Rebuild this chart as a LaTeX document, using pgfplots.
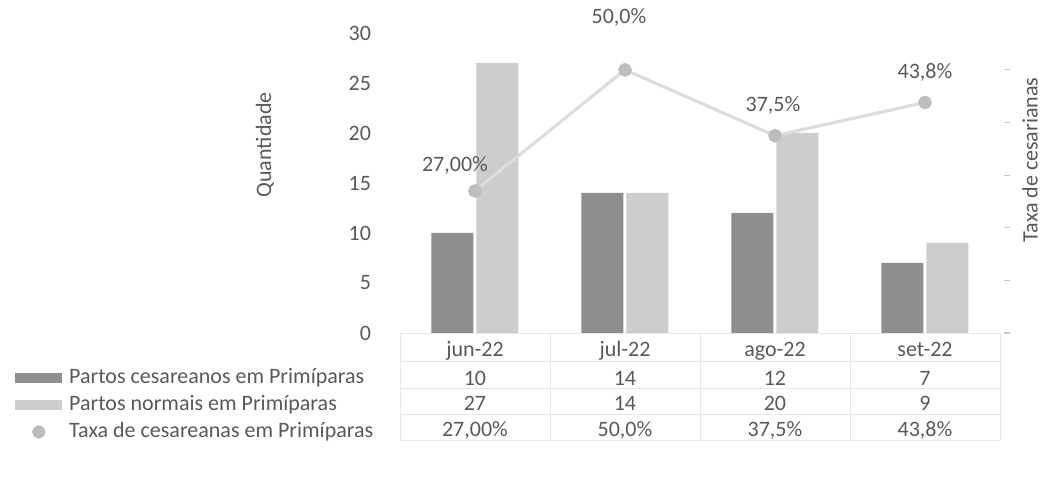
\documentclass[border=0pt]{standalone}
\usepackage{pgfplots}
\pgfplotsset{compat=1.18}
\usepackage{fontspec}
\setmainfont{Carlito}
\definecolor{textgray}{HTML}{595959}
\definecolor{cesgray}{HTML}{8E8E8E}
\definecolor{normgray}{HTML}{CDCDCD}
\definecolor{linegray}{HTML}{DDDDDD}
\definecolor{markgray}{HTML}{BDBDBD}
\definecolor{gridgray}{HTML}{E8E8E8}

\pgfplotstableread{
x ces norm
0 10 27
1 14 14
2 12 20
3 7  9
}\partos
% dx, dy: posicao do rotulo em relacao ao ponto (pt)
\pgfplotstableread{
x taxa  rot   dx   dy
0 0.27  27,00 -10  12.5
1 0.50  50,0  -3   26
2 0.375 37,5  -1   15
3 0.438 43,8  0    15
}\taxa

\begin{document}
\begin{tikzpicture}[font=\fontsize{11pt}{12.8pt}\selectfont, text=textgray]
\path[use as bounding box] (-200pt,-77pt) rectangle (323pt,166.5pt);
\begin{axis}[
  scale only axis, width=300pt, height=150pt,
  xmin=-0.5, xmax=3.5, ymin=0, ymax=30,
  ybar=1.5pt, bar width=21pt,
  /pgf/number format/assume math mode=true,
  xtick={0,1,2,3},
  xticklabels={{jun-22\\[1.5pt]10\\27\\27,00\%},{jul-22\\[1.5pt]14\\14\\50,0\%},
               {ago-22\\[1.5pt]12\\20\\37,5\%},{set-22\\[1.5pt]7\\9\\43,8\%}},
  xticklabel style={align=center, text=textgray, anchor=base, yshift=-47.5pt},
  ytick={0,5,...,30},
  yticklabel style={xshift=-11pt, text=textgray},
  axis line style={draw=none},
  tick style={draw=none},
  ylabel={Quantidade},
  ylabel style={at={(axis description cs:-0.225,0.627)}, anchor=center, text=textgray},
  clip=false,
]
\addplot[fill=cesgray, draw=none] table[x=x, y=ces] {\partos};
\addplot[fill=normgray, draw=none] table[x=x, y=norm] {\partos};
% linhas da tabela de dados
\pgfplotsinvokeforeach{-0.5,0.5,1.5,2.5,3.5}{
  \draw[gridgray] (axis cs:#1,0) -- ([yshift=-53.5pt]axis cs:#1,0);
}
\pgfplotsinvokeforeach{0,14,27.5,40.5,53.5}{
  \draw[gridgray] ([yshift=-#1pt]axis cs:-0.5,0) -- ([yshift=-#1pt]axis cs:3.5,0);
}
\end{axis}
\begin{axis}[
  scale only axis, width=300pt, height=150pt,
  xmin=-0.5, xmax=3.5, ymin=0, ymax=0.57,
  axis x line=none,
  axis y line*=right,
  y axis line style={draw=none},
  ytick={0,0.1,0.2,0.3,0.4,0.5}, yticklabels={},
  tick align=outside, major tick length=3pt,
  ytick style={draw=gray!45, line width=0.6pt, xshift=2pt},
  ylabel={Taxa de cesarianas},
  ylabel style={at={(axis description cs:1.05,0.577)}, anchor=center, rotate=0, text=textgray},
  legend cell align=left,
  legend style={draw=none, fill=none, inner sep=0pt, anchor=north west,
    at={(axis description cs:0,0)}, xshift=-192.5pt, yshift=-16pt,
    row sep=1pt, column sep=2.5pt,
    nodes={text height=8pt, text depth=2.5pt, inner sep=1pt, text=textgray}},
  clip=false,
]
\addlegendimage{legend image code/.code={\fill[cesgray] (0pt,-2.2pt) rectangle (23pt,2.2pt);}}
\addlegendentry{Partos cesareanos em Primíparas}
\addlegendimage{legend image code/.code={\fill[normgray] (0pt,-2.2pt) rectangle (23pt,2.2pt);}}
\addlegendentry{Partos normais em Primíparas}
\addplot[linegray, line width=1.6pt, mark=*, mark size=2.6pt,
  mark options={fill=markgray, draw=markgray},
  legend image code/.code={\path[draw=none] (0pt,-2.2pt) rectangle (23pt,2.2pt); \fill[markgray] (11.5pt,0pt) circle (2.5pt);},
  nodes near coords={\pgfplotspointmeta\%}, point meta=explicit symbolic,
  visualization depends on={\thisrow{dx} \as \dx},
  visualization depends on={\thisrow{dy} \as \dy},
  every node near coord/.append style={text=textgray, anchor=center, xshift=\dx pt, yshift=\dy pt}]
  table[x=x, y=taxa, meta=rot] {\taxa};
\addlegendentry{Taxa de cesareanas em Primíparas}
\end{axis}
\end{tikzpicture}
\end{document}
